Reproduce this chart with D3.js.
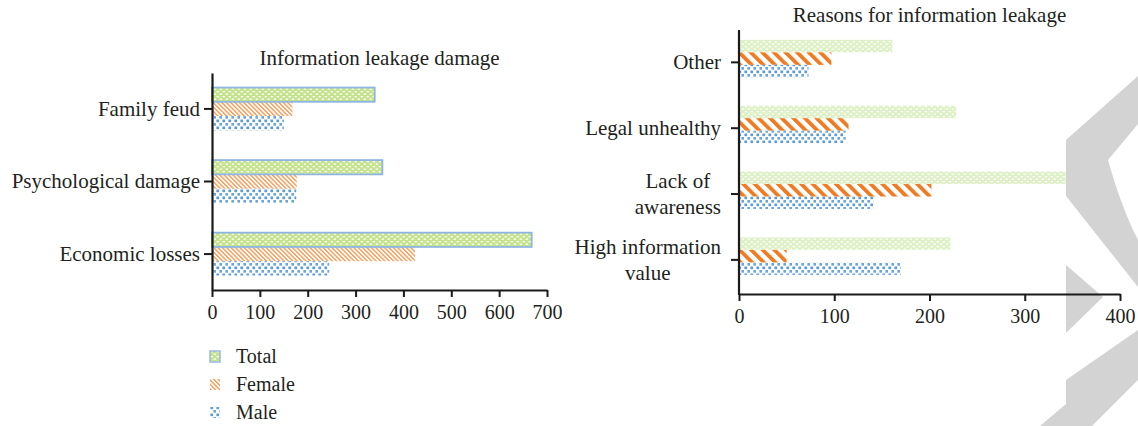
<!DOCTYPE html>
<html><head><meta charset="utf-8">
<script src="https://cdn.jsdelivr.net/npm/d3@7"></script>
<style>
html,body{margin:0;padding:0;background:#fff;}
svg{display:block;}
text{font-family:"Liberation Serif","DejaVu Serif","Times New Roman",serif;fill:#231f20;}
</style></head>
<body>
<svg id="chart" width="1138" height="426"></svg>
<script>
// ---------- data ----------
const seriesNames = ["Total", "Female", "Male"];

const leftTitle = "Information leakage damage";
const leftCategories = ["Family feud", "Psychological damage", "Economic losses"];
const leftTotal  = [340, 356, 668];
const leftFemale = [168, 177, 424];
const leftMale   = [150, 176, 245];
const leftTicks  = [0, 100, 200, 300, 400, 500, 600, 700];

const rightTitle = "Reasons for information leakage";
const rightCategories = ["Other", "Legal unhealthy", "Lack of\nawareness", "High information\nvalue"];
const rightTotal  = [161, 228, 343, 222];
const rightFemale = [97, 115, 202, 50];
const rightMale   = [73, 112, 141, 170];
const rightTicks  = [0, 100, 200, 300, 400];

// ---------- setup ----------
const FONT = "Liberation Serif, DejaVu Serif, serif";
const svg = d3.select("#chart");
const defs = svg.append("defs");

function dotPattern(id, bg, w, h) {
  const p = defs.append("pattern").attr("id", id).attr("patternUnits", "userSpaceOnUse")
    .attr("width", w).attr("height", h);
  p.append("rect").attr("width", w).attr("height", h).attr("fill", bg);
  p.append("rect").attr("x", 0.6).attr("y", 1).attr("width", 2.4).attr("height", 1.3).attr("fill", "#fff");
  p.append("rect").attr("x", 3.6).attr("y", 3.5).attr("width", 2.4).attr("height", 1.3).attr("fill", "#fff");
}
dotPattern("greenL", "#c4e38c", 6, 5);
dotPattern("greenR", "#def1c6", 6, 5);

function hatch(id, color, period, lw) {
  const p = defs.append("pattern").attr("id", id).attr("patternUnits", "userSpaceOnUse")
    .attr("width", period).attr("height", 10).attr("patternTransform", "rotate(-45)");
  p.append("rect").attr("width", lw).attr("height", 10).attr("fill", color);
}
hatch("hatchL", "#f59b55", 3.1, 1.4);
hatch("hatchR", "#ef7b22", 8.2, 3.8);

(function () {
  const p = defs.append("pattern").attr("id", "dotsB").attr("patternUnits", "userSpaceOnUse")
    .attr("width", 6).attr("height", 7);
  p.append("rect").attr("x", 0.4).attr("y", 0.5).attr("width", 2.7).attr("height", 2.7).attr("fill", "#5b9bd5");
  p.append("rect").attr("x", 3.4).attr("y", 4.0).attr("width", 2.7).attr("height", 2.7).attr("fill", "#6aa5dc");
})();

const barLayer = svg.append("g");
const wmLayer = svg.append("g");
const axisLayer = svg.append("g");

// ---------- watermark (decoration) ----------
wmLayer.attr("fill", "#d3d3d3");
wmLayer.append("path").attr("d", "M1138,76 L1066,140 L1066,196 L1138,287 L1138,240 C1125,215 1115,185 1108,160 L1138,124 Z");
wmLayer.append("path").attr("d", "M1066,265 L1103,297 L1066,333 Z");
wmLayer.append("path").attr("d", "M1066,380 L1138,330 L1138,380 L1092,426 L1040,426 L1066,404 Z");

const axisColor = "#1a1a1a";

// ---------- left chart ----------
(function () {
  const x = d3.scaleLinear().domain([0, 700]).range([212, 547]);
  const y = d3.scaleBand().domain(leftCategories).range([73, 290]).paddingInner(0.41).paddingOuter(0.2);
  const sub = d3.scaleBand().domain(seriesNames).range([0, y.bandwidth()]);
  const vals = { Total: leftTotal, Female: leftFemale, Male: leftMale };
  const fills = { Total: "url(#greenL)", Female: "url(#hatchL)", Male: "url(#dotsB)" };

  seriesNames.slice().reverse().forEach(s => {
    barLayer.selectAll(null).data(leftCategories).enter().append("rect")
      .attr("x", x(0))
      .attr("y", (c) => y(c) + sub(s))
      .attr("width", (c, i) => x(vals[s][i]) - x(0))
      .attr("height", sub.bandwidth())
      .attr("fill", fills[s])
      .attr("stroke", s === "Total" ? "#8fb6e3" : "none")
      .attr("stroke-width", s === "Total" ? 1.8 : 0);
  });

  const xa = axisLayer.append("g").attr("transform", "translate(0,290)")
    .call(d3.axisBottom(x).tickValues(leftTicks).tickSize(7).tickSizeOuter(0).tickPadding(8));
  xa.select(".domain").attr("stroke", axisColor).attr("stroke-width", 2);
  xa.selectAll(".tick line").attr("stroke", axisColor).attr("stroke-width", 2);
  xa.selectAll(".tick text").attr("font-size", 20).attr("fill", "#231f20").attr("font-family", FONT);

  const ya = axisLayer.append("g").attr("transform", "translate(212,0)")
    .call(d3.axisLeft(y).tickSize(8).tickSizeOuter(0).tickPadding(4));
  ya.select(".domain").attr("stroke", axisColor).attr("stroke-width", 2.2);
  ya.selectAll(".tick line").attr("stroke", axisColor).attr("stroke-width", 2);
  ya.selectAll(".tick text").attr("font-size", 21).attr("fill", "#231f20").attr("font-family", FONT);

  axisLayer.append("text").attr("x", (x.range()[0] + x.range()[1]) / 2).attr("y", 65)
    .attr("text-anchor", "middle").attr("font-size", 21).text(leftTitle);

  const lg = axisLayer.append("g");
  seriesNames.forEach((s, i) => {
    const cy = 356 + i * 28;
    lg.append("rect").attr("x", 210).attr("y", cy - 5).attr("width", 10).attr("height", 11)
      .attr("fill", fills[s]).attr("stroke", s === "Total" ? "#8fb6e3" : "none").attr("stroke-width", 1.4);
    lg.append("text").attr("x", 236).attr("y", cy + 7).attr("font-size", 20).text(s);
  });
})();

// ---------- right chart ----------
(function () {
  const x = d3.scaleLinear().domain([0, 400]).range([739, 1120]);
  const y = d3.scaleBand().domain(rightCategories).range([30, 294])
    .paddingInner(0.43).paddingOuter(0.22).align(0.34);
  const sub = d3.scaleBand().domain(seriesNames).range([0, y.bandwidth()]);
  const vals = { Total: rightTotal, Female: rightFemale, Male: rightMale };
  const fills = { Total: "url(#greenR)", Female: "url(#hatchR)", Male: "url(#dotsB)" };

  seriesNames.forEach(s => {
    barLayer.selectAll(null).data(rightCategories).enter().append("rect")
      .attr("x", x(0))
      .attr("y", (c) => y(c) + sub(s))
      .attr("width", (c, i) => x(vals[s][i]) - x(0))
      .attr("height", sub.bandwidth())
      .attr("fill", fills[s]);
  });

  const xa = axisLayer.append("g").attr("transform", "translate(0,294)")
    .call(d3.axisBottom(x).tickValues(rightTicks).tickSize(7).tickSizeOuter(0).tickPadding(8));
  xa.select(".domain").attr("stroke", axisColor).attr("stroke-width", 2);
  xa.selectAll(".tick line").attr("stroke", axisColor).attr("stroke-width", 2);
  xa.selectAll(".tick text").attr("font-size", 20).attr("fill", "#231f20").attr("font-family", FONT);

  axisLayer.append("line").attr("x1", 739).attr("x2", 739).attr("y1", 30).attr("y2", 295)
    .attr("stroke", axisColor).attr("stroke-width", 2.2);
  const tickY = (c) => y(c) + y.bandwidth() * 0.6;
  const yt = axisLayer.append("g");
  rightCategories.forEach(c => {
    const ty = tickY(c);
    yt.append("line").attr("x1", 731).attr("x2", 739).attr("y1", ty).attr("y2", ty)
      .attr("stroke", axisColor).attr("stroke-width", 2);
    const lines = c.split("\n");
    const t = yt.append("text").attr("font-size", 21);
    const lh = 26;
    const y0 = ty - (lines.length - 1) * lh / 2 + 7;
    if (lines.length === 1) {
      t.attr("x", 721).attr("y", y0).attr("text-anchor", "end").text(lines[0]);
    } else {
      const spans = lines.map((ln, k) => t.append("tspan").attr("y", y0 + k * lh).text(ln));
      const w = d3.max(spans, sp => sp.node().getComputedTextLength());
      spans.forEach(sp => sp.attr("x", 721 - w / 2).attr("text-anchor", "middle"));
    }
  });

  axisLayer.append("text").attr("x", (x.range()[0] + x.range()[1]) / 2).attr("y", 22)
    .attr("text-anchor", "middle").attr("font-size", 21).text(rightTitle);
})();
</script>
</body></html>
